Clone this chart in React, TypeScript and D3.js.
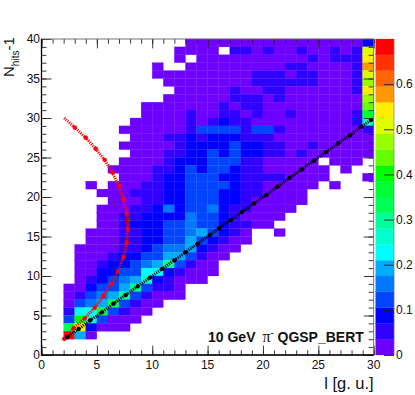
import React, { useEffect, useRef } from "react";
import * as d3 from "d3";

// z level per cell, written as base-36 digit, '.' means empty bin. First row is y bin 39.
const cellRows = [
  "..... ..... ...00 00000 00000 00002",
  "..... ..... ..000 0.110 10010 0101e",
  "..... ..... ..0.0 00000 00001 0111f",
  "..... ..... 0..00 00000 00110 0001g",
  "..... ..... 00000 00001 11011 0001e",
  "..... ..... .0000 00001 11111 0001d",
  "..... ..... ..000 00100 11000 0001f",
  "..... ..... .0000 00111 01000 0000d",
  "..... ....0 00000 01011 00000 0000c",
  "..... ....0 00010 01101 00100 0001a",
  "..... ...00 00010 12110 00000 00017",
  "..... ..000 00013 33313 31000 00001",
  "..... ...00 01121 22211 10000 00000",
  "..... ..000 00122 22322 11001 00000",
  "..... ...00 01122 32322 11010 00000",
  "..... ..000 01222 33311 00000 .000.",
  "..... .0000 11232 33211 00000 0.0..",
  "..... ..000 12233 32211 11000 0...0",
  "....0 .0001 12233 33211 00000 .0...",
  "..... 00011 12233 32211 0000. .....",
  "..... .0001 12233 32210 0000. .....",
  "..... 00011 24233 42110 000.. .....",
  "..... 00112 22243 32100 00... .....",
  "..... 00122 23343 32110 0.... .....",
  "....0 00112 23345 3210. .0... .....",
  "....0 00112 23353 2100. ..... .....",
  "...00 00112 34452 100.. ..... .....",
  "...00 01223 35531 00... ..... .....",
  "...00 12234 58310 0.... ..... .....",
  "...00 22336 62100 0.... ..... .....",
  "...01 23457 21000 ..... ..... .....",
  "..002 33583 110.. ..... ..... .....",
  "..013 45831 000.. ..... ..... .....",
  "..034 59310 0.... ..... ..... .....",
  "..166 a3100 ..... ..... ..... .....",
  "..3b7 3000. ..... ..... ..... .....",
  "..9f2 000.. ..... ..... ..... .....",
  "..j50 ..... ..... ..... ..... .....",
  "..... ..... ..... ..... ..... .....",
  "..... ..... ..... ..... ..... .....",
];

const paletteColors = [
  "#6e00ff", "#3000ff", "#0000ff", "#0044ff", "#0077ff",
  "#00aaff", "#00ffff", "#00ffcc", "#00ff99", "#00ff55",
  "#00ff33", "#00ff00", "#66ff00", "#99ff00", "#ddff00",
  "#ffee00", "#ff9900", "#ff6600", "#ff3300", "#ff0000",
];

const blackX = [2.3, 3.35, 4.4, 5.45, 6.5, 7.6, 8.7, 9.8, 10.9, 12, 13, 14.1, 15.2, 16.05, 17.1, 18.1, 19.2, 20.3, 21.3, 22.4, 23.5, 24.6, 25.7, 26.8, 27.85, 28.9, 29.75];
const blackY = [2.25, 3.3, 4.4, 5.4, 6.5, 7.6, 8.7, 9.8, 10.9, 12, 13, 14.1, 15.2, 16.05, 17.1, 18.1, 19.2, 20.25, 21.3, 22.4, 23.5, 24.6, 25.7, 26.8, 27.8, 28.9, 29.75];
const redX = [2.05, 2.9, 3.9, 4.8, 5.6, 6.3, 6.9, 7.4, 7.7, 7.8, 7.7, 7.4, 7, 6.4, 5.7, 4.9, 4, 3, 2.05];
const redY = [2.05, 3.4, 4.64, 5.98, 7.46, 9, 10.6, 12.4, 14.2, 16, 17.9, 19.7, 21.4, 23.1, 24.7, 26.1, 27.5, 28.8, 30];
const paletteTicks = [0, 0.1, 0.2, 0.3, 0.4, 0.5, 0.6];

const left = 41.5, right = 373.7, top = 39, bottom = 355;
const barLeft = 375.7, barRight = 394;
const FONT = "'Liberation Sans', Arial, sans-serif";

export default function App() {
  const ref = useRef<SVGSVGElement>(null);

  useEffect(() => {
    const svg = d3.select(ref.current);
    svg.selectAll("*").remove();

    const x = d3.scaleLinear().domain([0, 30]).range([left, right]);
    const y = d3.scaleLinear().domain([0, 40]).range([bottom, top]);
    const z = d3.scaleLinear().domain([0, 0.7]).range([bottom, top]);
    const color = d3.scaleQuantize<string>().domain([0, 0.7]).range(paletteColors);

    // cells
    const levelStep = 0.7 / paletteColors.length;
    const cells: { i: number; j: number; v: number }[] = [];
    cellRows.forEach((row, r) => {
      row.replace(/ /g, "").split("").forEach((c, i) => {
        if (c !== ".") cells.push({ i, j: 39 - r, v: (parseInt(c, 36) + 0.5) * levelStep });
      });
    });
    svg.append("g").selectAll("rect").data(cells).join("rect")
      .attr("x", d => x(d.i))
      .attr("y", d => y(d.j + 1))
      .attr("width", d => x(d.i + 1) - x(d.i))
      .attr("height", d => y(d.j) - y(d.j + 1))
      .attr("fill", d => color(d.v))
      .attr("stroke", d => color(d.v))
      .attr("stroke-width", 0.25);

    // palette
    svg.append("g").selectAll("rect").data(paletteColors).join("rect")
      .attr("x", barLeft)
      .attr("y", (_, i) => z((i + 1) * levelStep))
      .attr("width", barRight - barLeft)
      .attr("height", (_, i) => z(i * levelStep) - z((i + 1) * levelStep))
      .attr("fill", d => d)
      .attr("stroke", d => d)
      .attr("stroke-width", 0.25);

    // graphs
    const drawGraph = (xs: number[], ys: number[], col: string, skipLast: boolean) => {
      const g = svg.append("g");
      const pts = xs.map((v, i) => [x(v), y(ys[i])] as [number, number]);
      g.append("path")
        .attr("d", d3.line()(pts))
        .attr("fill", "none")
        .attr("stroke", col)
        .attr("stroke-width", 3)
        .attr("stroke-dasharray", "1.1 1.1");
      g.selectAll("circle").data(skipLast ? pts.slice(0, -1) : pts).join("circle")
        .attr("cx", d => d[0])
        .attr("cy", d => d[1])
        .attr("r", 2.2)
        .attr("fill", col);
    };
    drawGraph(redX, redY, "#ff0000", true);
    drawGraph(blackX, blackY, "#000000", false);

    // axes, ROOT style: ticks inside the frame on all four sides
    const range = (a: number, b: number, s: number) => d3.range(a, b + 0.001, s);
    const addAxis = (axis: any, tx: number, ty: number, vals: number[], size: number) => {
      const g = svg.append("g").attr("transform", `translate(${tx},${ty})`)
        .call(axis.tickValues(vals).tickSize(size).tickSizeOuter(0).tickPadding(0).tickFormat(() => ""));
      g.select(".domain").remove();
      g.selectAll("line").attr("stroke", "#222").attr("stroke-width", 0.9);
      return g;
    };
    addAxis(d3.axisTop(x), 0, bottom, range(0, 30, 1), 4.7);
    addAxis(d3.axisTop(x), 0, bottom, range(0, 30, 5), 9.4);
    addAxis(d3.axisBottom(x), 0, top, range(0, 30, 1), 4.7);
    addAxis(d3.axisBottom(x), 0, top, range(0, 30, 5), 9.4);
    addAxis(d3.axisRight(y), left, 0, range(0, 40, 1), 5);
    addAxis(d3.axisRight(y), left, 0, range(0, 40, 5), 10);
    addAxis(d3.axisLeft(y), right, 0, range(0, 40, 1), 5);
    addAxis(d3.axisLeft(y), right, 0, range(0, 40, 5), 10);
    addAxis(d3.axisLeft(z), barRight, 0, paletteTicks, 10);

    // frame
    const frame = svg.append("g").attr("fill", "none");
    frame.append("rect").attr("x", left).attr("y", top).attr("width", right - left).attr("height", bottom - top)
      .attr("stroke", "#666").attr("stroke-width", 0.9);
    frame.append("path").attr("d", `M${left},${top}V${bottom}H${right}`).attr("stroke", "#000").attr("stroke-width", 1.3);
    frame.append("path").attr("d", `M${barRight},${top}V${bottom}`).attr("stroke", "#777").attr("stroke-width", 0.6);

    // tick labels
    const text = svg.append("g").attr("font-family", FONT).attr("fill", "#111").attr("font-size", 12);
    text.selectAll(".xl").data(range(0, 30, 5)).join("text").attr("class", "xl")
      .attr("x", d => x(d)).attr("y", 369).attr("text-anchor", "middle").text(d => d);
    text.selectAll(".yl").data(range(0, 40, 5)).join("text").attr("class", "yl")
      .attr("x", left - 1.5).attr("y", d => y(d) + 4.3).attr("text-anchor", "end").text(d => d);
    text.selectAll(".zl").data(paletteTicks).join("text").attr("class", "zl")
      .attr("x", 396).attr("y", d => z(d) + 4.3).text(d => d);

    // titles
    svg.append("text").attr("x", right).attr("y", 389).attr("text-anchor", "end")
      .attr("font-family", FONT).attr("font-size", 16.5).attr("fill", "#111").text("l [g. u.]");
    const yt = svg.append("text").attr("transform", "translate(13.6,77) rotate(-90)")
      .attr("font-family", FONT).attr("font-size", 15).attr("fill", "#111");
    yt.append("tspan").text("N");
    yt.append("tspan").attr("dy", 5).attr("font-size", 10).text("hits");
    yt.append("tspan").attr("dy", -5).text("-1");

    const lab = svg.append("text").attr("x", 208).attr("y", 342)
      .attr("font-family", FONT).attr("font-weight", "bold").attr("font-size", 14).attr("fill", "#111");
    lab.append("tspan").text("10 GeV");
    lab.append("tspan").attr("x", 262.5).attr("font-family", "'Liberation Serif', serif").attr("font-weight", "normal").attr("font-size", 16).text("π");
    lab.append("tspan").attr("dy", -6).attr("font-size", 10).attr("font-weight", "normal").text("-");
    lab.append("tspan").attr("x", 277.5).attr("dy", 6).text("QGSP_BERT");
  }, []);

  return <svg ref={ref} width={415} height={395} style={{ position: "absolute", left: 0, top: 0, background: "#fff" }} />;
}
